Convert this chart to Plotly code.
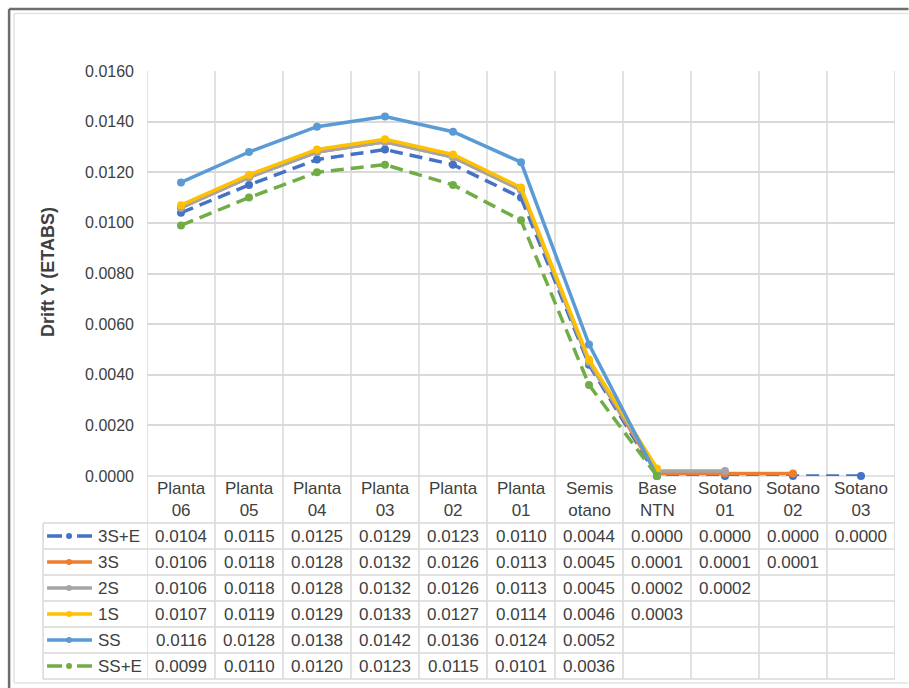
import plotly.graph_objects as go

# ---------------- data ----------------
categories = ["Planta 06", "Planta 05", "Planta 04", "Planta 03", "Planta 02", "Planta 01",
              "Semisotano", "Base NTN", "Sotano 01", "Sotano 02", "Sotano 03"]
header_labels = ["Planta<br>06", "Planta<br>05", "Planta<br>04", "Planta<br>03", "Planta<br>02",
                 "Planta<br>01", "Semis<br>otano", "Base<br>NTN", "Sotano<br>01", "Sotano<br>02",
                 "Sotano<br>03"]
series_names = ["3S+E", "3S", "2S", "1S", "SS", "SS+E"]

s_3SE = [0.0104, 0.0115, 0.0125, 0.0129, 0.0123, 0.0110, 0.0044, 0.0000, 0.0000, 0.0000, 0.0000]
s_3S = [0.0106, 0.0118, 0.0128, 0.0132, 0.0126, 0.0113, 0.0045, 0.0001, 0.0001, 0.0001, None]
s_2S = [0.0106, 0.0118, 0.0128, 0.0132, 0.0126, 0.0113, 0.0045, 0.0002, 0.0002, None, None]
s_1S = [0.0107, 0.0119, 0.0129, 0.0133, 0.0127, 0.0114, 0.0046, 0.0003, None, None, None]
s_SS = [0.0116, 0.0128, 0.0138, 0.0142, 0.0136, 0.0124, 0.0052, 0.0000, None, None, None]
s_SSE = [0.0099, 0.0110, 0.0120, 0.0123, 0.0115, 0.0101, 0.0036, 0.0000, None, None, None]
series_values = [s_3SE, s_3S, s_2S, s_1S, s_SS, s_SSE]
# cells plotted as zero but shown empty in the data table
table_blank = {"SS": [7], "SS+E": [7]}

y_ticks = [0.0, 0.002, 0.004, 0.006, 0.008, 0.010, 0.012, 0.014, 0.016]

# ---------------- styles ----------------
colors = ["#4472C4", "#ED7D31", "#A5A5A5", "#FFC000", "#5B9BD5", "#70AD47"]
dashed = [True, False, False, False, False, True]
FONT = "Liberation Sans, Arial, sans-serif"
TXT = "#404040"
GRID = "#D9D9D9"

W, H = 909, 688
PL, PR, PT, PB = 147, 895.5, 71, 476
n = len(categories)


def px_x(px):
    return (px - PL) / (PR - PL)


def px_y(py):
    return (PB - py) / (PB - PT)


fig = go.Figure()
x_idx = list(range(n))
for name, vals, col, dsh in zip(series_names, series_values, colors, dashed):
    fig.add_trace(go.Scatter(
        x=x_idx, y=vals, name=name, mode="lines+markers",
        line=dict(color=col, width=3.5, dash="13px,7px" if dsh else "solid"),
        marker=dict(color=col, size=8, symbol="circle"),
        cliponaxis=False, showlegend=False,
    ))

shapes = []
annotations = []

# frame
shapes.append(dict(type="line", xref="paper", yref="paper", x0=px_x(9), x1=px_x(W), y0=px_y(9), y1=px_y(9),
                   line=dict(color="#6E6E6E", width=2.5)))
shapes.append(dict(type="line", xref="paper", yref="paper", x0=px_x(9), x1=px_x(9), y0=px_y(9), y1=px_y(H),
                   line=dict(color="#6E6E6E", width=2.5)))
shapes.append(dict(type="line", xref="paper", yref="paper", x0=px_x(14), x1=px_x(W), y0=px_y(13.5), y1=px_y(13.5),
                   line=dict(color="#E3E3E3", width=1.5)))
shapes.append(dict(type="line", xref="paper", yref="paper", x0=px_x(14), x1=px_x(14), y0=px_y(13.5), y1=px_y(683),
                   line=dict(color="#E3E3E3", width=1.5)))
shapes.append(dict(type="line", xref="paper", yref="paper", x0=px_x(14), x1=px_x(W), y0=px_y(683), y1=px_y(683),
                   line=dict(color="#E3E3E3", width=1.5)))

# table geometry
header_bottom = 523
row_h = 26
table_bottom = header_bottom + row_h * len(series_names)
legend_left = 43

# vertical lines (category boundaries) through plot and table
for k in range(n + 1):
    xb = k - 0.5
    shapes.append(dict(type="line", xref="x", yref="paper", x0=xb, x1=xb, y0=px_y(PT), y1=px_y(table_bottom),
                       line=dict(color=GRID, width=1.5), layer="below"))
# legend column vertical line
shapes.append(dict(type="line", xref="paper", yref="paper", x0=px_x(legend_left), x1=px_x(legend_left),
                   y0=px_y(header_bottom), y1=px_y(table_bottom), line=dict(color=GRID, width=1.5)))
# horizontal table lines
shapes.append(dict(type="line", xref="paper", yref="paper", x0=0, x1=1, y0=0, y1=0,
                   line=dict(color=GRID, width=1.5), layer="below"))
for r in range(len(series_names) + 1):
    yy = header_bottom + r * row_h
    shapes.append(dict(type="line", xref="paper", yref="paper", x0=px_x(legend_left), x1=1,
                       y0=px_y(yy), y1=px_y(yy), line=dict(color=GRID, width=1.5)))

# header labels
for k, lab in enumerate(header_labels):
    annotations.append(dict(x=k, y=px_y((PB + header_bottom) / 2), xref="x", yref="paper", text=lab,
                            showarrow=False, xanchor="center", yanchor="middle",
                            font=dict(family=FONT, size=17, color=TXT)))

# rows
for r, (name, vals, col, dsh) in enumerate(zip(series_names, series_values, colors, dashed)):
    cy = header_bottom + r * row_h + row_h / 2
    yp = px_y(cy)
    # legend key
    if dsh:
        for a, b in [(47, 62), (77, 92)]:
            shapes.append(dict(type="line", xref="paper", yref="paper", x0=px_x(a), x1=px_x(b), y0=yp, y1=yp,
                               line=dict(color=col, width=3.5)))
    else:
        shapes.append(dict(type="line", xref="paper", yref="paper", x0=px_x(47), x1=px_x(92), y0=yp, y1=yp,
                           line=dict(color=col, width=3.5)))
    shapes.append(dict(type="circle", xref="paper", yref="paper", x0=px_x(66), x1=px_x(72),
                       y0=px_y(cy + 3), y1=px_y(cy - 3), fillcolor=col, line=dict(color=col, width=0)))
    annotations.append(dict(x=px_x(96), y=yp, xref="paper", yref="paper", text=name, showarrow=False,
                            xanchor="left", yanchor="middle", font=dict(family=FONT, size=17, color=TXT)))
    blanks = table_blank.get(name, [])
    for k, v in enumerate(vals):
        if v is None or k in blanks:
            continue
        annotations.append(dict(x=k, y=yp, xref="x", yref="paper", text=f"{v:.4f}", showarrow=False,
                                xanchor="center", yanchor="middle",
                                font=dict(family=FONT, size=17, color=TXT)))

# y axis title
annotations.append(dict(x=px_x(48), y=px_y(272), xref="paper", yref="paper", text="<b>Drift Y (ETABS)</b>",
                        textangle=-90, showarrow=False, xanchor="center", yanchor="middle",
                        font=dict(family=FONT, size=18, color=TXT)))

fig.update_layout(
    width=W, height=H,
    margin=dict(l=PL, r=W - PR, t=PT, b=H - PB, pad=0),
    paper_bgcolor="white", plot_bgcolor="white",
    shapes=shapes, annotations=annotations,
    xaxis=dict(range=[-0.5, n - 0.5], showgrid=False, zeroline=False, showticklabels=False,
               ticks="", showline=False, fixedrange=True),
    yaxis=dict(range=[0, 0.016], tickvals=y_ticks, tickformat=".4f", showgrid=True, gridcolor=GRID,
               gridwidth=1.5, zeroline=False, showline=False, ticks="", ticklabelstandoff=12,
               tickfont=dict(family=FONT, size=16, color=TXT), fixedrange=True),
    font=dict(family=FONT),
)

fig.write_html("out.html")
